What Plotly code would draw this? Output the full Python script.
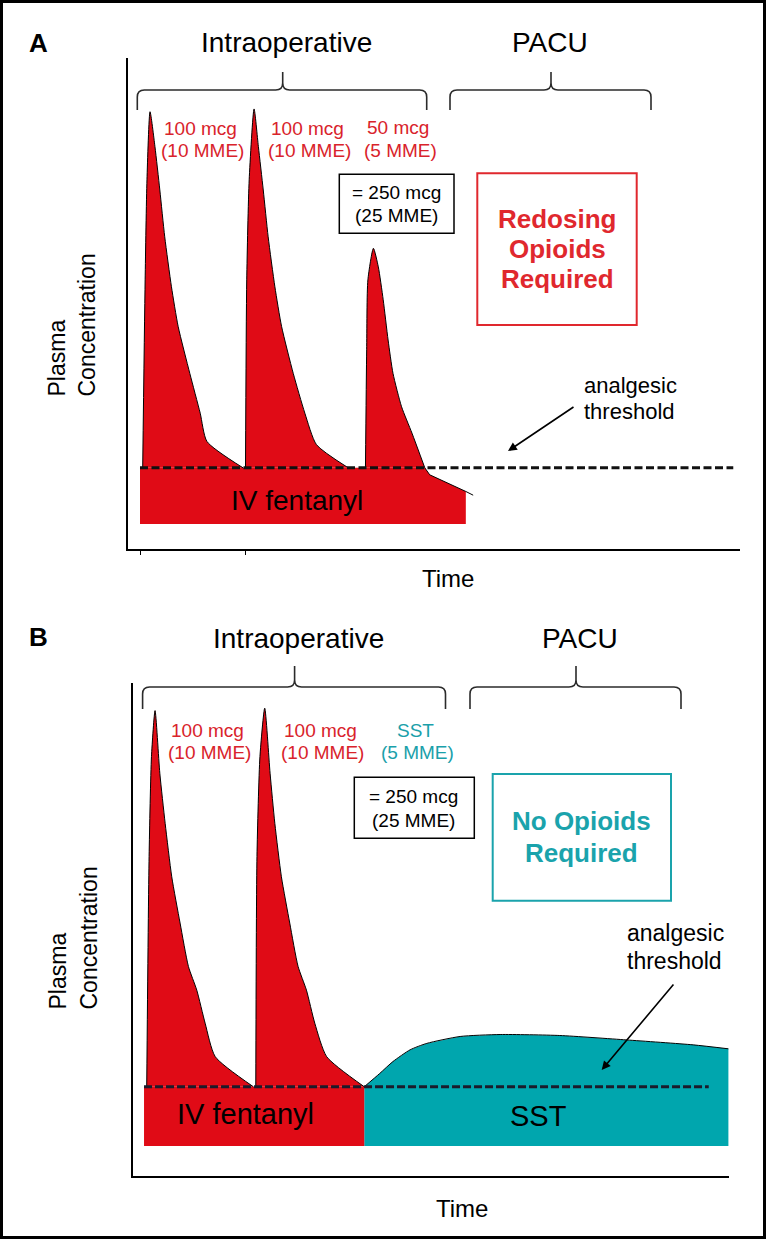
import plotly.graph_objects as go

W, H = 766, 1239

# ---------------- Panel A data (arbitrary time / concentration units) ----------------
threshold_a = 17.3
baseline_a = 5.2
fent_rect_a = [1.96, 55.2]
dash_span_a = [1.96, 98.9]
ticks_a = [1.96, 19.2]

peak1_a_t = [2.4, 2.8, 3.1, 3.6, 4.4, 5.2, 6.0, 7.1, 8.2, 10.1, 11.8, 12.9, 18.8]
peak1_a_c = [17.3, 57.9, 79.5, 94.2, 86.7, 77.3, 67.2, 56.4, 47.8, 37.7, 29.1, 23.0, 17.3]
peak2_a_t = [19.2, 19.4, 19.8, 20.6, 21.3, 22.1, 22.9, 24.0, 25.1, 27.0, 28.9, 30.8, 36.0]
peak2_a_c = [17.3, 57.9, 79.5, 94.8, 86.7, 77.3, 67.2, 56.4, 47.8, 37.7, 29.1, 22.3, 17.3]
peak3_a_t = [38.8, 39.0, 39.2, 40.1, 40.9, 41.7, 42.5, 43.3, 44.7, 46.4, 48.5]
peak3_a_c = [17.3, 42.8, 57.9, 64.7, 60.7, 53.6, 44.9, 37.7, 30.5, 24.8, 17.3]
tail_a_t = [48.5, 49.3, 55.2, 56.4]
tail_a_c = [17.3, 15.8, 12.2, 11.4]

# ---------------- Panel B data ----------------
threshold_b = 18.1
baseline_b = 6.1
fent_rect_b = [1.85, 38.8]
sst_rect_b = [38.8, 99.9]
dash_span_b = [1.85, 96.6]

peak1_b_t = [2.3, 2.7, 3.1, 3.7, 4.5, 5.4, 6.5, 7.9, 9.3, 10.7, 12.1, 13.8, 20.2]
peak1_b_c = [18.1, 64.8, 85.1, 94.4, 81.7, 71.5, 60.7, 51.3, 42.5, 37.7, 31.0, 24.2, 18.1]
peak2_b_t = [20.6, 20.8, 21.3, 22.1, 23.0, 23.8, 24.9, 26.3, 27.7, 29.1, 30.5, 32.5, 38.8]
peak2_b_c = [18.1, 64.8, 85.1, 94.9, 81.7, 71.5, 60.7, 51.3, 42.5, 37.7, 31.0, 24.2, 18.1]
sst_t = [38.8, 41.4, 43.6, 46.5, 49.3, 54.9, 61.6, 71.6, 82.8, 94.0, 99.9]
sst_c = [18.1, 20.8, 23.2, 25.6, 26.9, 28.3, 28.7, 28.5, 27.6, 26.6, 25.8]

# ---------------- styles ----------------
RED = "#e00b16"
RED_TXT = "#d9232b"
TEAL = "#00a6ae"
TEAL_TXT = "#1aa0aa"
FONT = "Arial, 'Liberation Sans', sans-serif"


def P(x):
    return x / W


def Q(y):
    return 1 - y / H


fig = go.Figure()


def add_fill(xs, ys, color, axx, axy, shape="linear"):
    fig.add_trace(go.Scatter(x=xs, y=ys, fill="toself", fillcolor=color, mode="lines",
                             line=dict(width=0, color=color, shape=shape, smoothing=0.6),
                             hoverinfo="skip", xaxis=axx, yaxis=axy))


def add_outline(xs, ys, axx, axy, shape="linear"):
    fig.add_trace(go.Scatter(x=xs, y=ys, mode="lines",
                             line=dict(color="black", width=1, shape=shape, smoothing=0.6),
                             hoverinfo="skip", xaxis=axx, yaxis=axy))


# ---- Panel A ----
add_fill([fent_rect_a[0], fent_rect_a[0]] + tail_a_t[:3] + [fent_rect_a[1]],
         [baseline_a, threshold_a] + tail_a_c[:3] + [baseline_a], RED, "x", "y")
for pt, pc in [(peak1_a_t, peak1_a_c), (peak2_a_t, peak2_a_c), (peak3_a_t, peak3_a_c)]:
    add_fill(pt, pc, RED, "x", "y", "spline")
for pt, pc in [(peak1_a_t, peak1_a_c), (peak2_a_t, peak2_a_c), (peak3_a_t, peak3_a_c)]:
    add_outline(pt, pc, "x", "y", "spline")
add_outline(tail_a_t, tail_a_c, "x", "y")
fig.add_trace(go.Scatter(x=dash_span_a, y=[threshold_a, threshold_a], mode="lines",
                         line=dict(color="#111111", width=3, dash="8px,3.5px"),
                         hoverinfo="skip", xaxis="x", yaxis="y"))

# ---- Panel B ----
add_fill([sst_rect_b[0]] + sst_t + [sst_rect_b[1]], [baseline_b] + sst_c + [baseline_b], TEAL, "x2", "y2")
add_fill([fent_rect_b[0], fent_rect_b[0], fent_rect_b[1], fent_rect_b[1]],
         [baseline_b, threshold_b, threshold_b, baseline_b], RED, "x2", "y2")
for pt, pc in [(peak1_b_t, peak1_b_c), (peak2_b_t, peak2_b_c)]:
    add_fill(pt, pc, RED, "x2", "y2", "spline")
for pt, pc in [(peak1_b_t, peak1_b_c), (peak2_b_t, peak2_b_c)]:
    add_outline(pt, pc, "x2", "y2", "spline")
add_outline(sst_t, sst_c, "x2", "y2", "spline")
fig.add_trace(go.Scatter(x=dash_span_b, y=[threshold_b, threshold_b], mode="lines",
                         line=dict(color="#1b1b2b", width=3, dash="8px,3px"),
                         hoverinfo="skip", xaxis="x2", yaxis="y2"))

axis_common = dict(showgrid=False, zeroline=False, showline=True, linecolor="black",
                   linewidth=2, showticklabels=False, fixedrange=True)

fig.update_layout(
    width=W, height=H, margin=dict(l=0, r=0, t=0, b=0),
    paper_bgcolor="white", plot_bgcolor="white", showlegend=False,
    xaxis=dict(domain=[P(128), P(740)], range=[0, 100], anchor="y",
               ticks="outside", tickvals=ticks_a, ticklen=4, tickwidth=1, tickcolor="black",
               **axis_common),
    yaxis=dict(domain=[Q(549), Q(58)], range=[-0.22, 105.8], anchor="x", ticks="",
               **axis_common),
    xaxis2=dict(domain=[P(133), P(729)], range=[0, 100], anchor="y2", ticks="", **axis_common),
    yaxis2=dict(domain=[Q(1176), Q(683)], range=[0, 100], anchor="x2", ticks="", **axis_common),
)


def brace_path(xl, xr, xt, ybar, yend, ytip, r=7):
    pts = []
    pts.append(f"M {P(xl)},{Q(yend)}")
    pts.append(f"L {P(xl)},{Q(ybar + r)}")
    pts.append(f"Q {P(xl)},{Q(ybar)} {P(xl + r)},{Q(ybar)}")
    pts.append(f"L {P(xt - r)},{Q(ybar)}")
    pts.append(f"Q {P(xt)},{Q(ybar)} {P(xt)},{Q(ybar - r)}")
    pts.append(f"L {P(xt)},{Q(ytip)}")
    pts.append(f"M {P(xt)},{Q(ybar - r)}")
    pts.append(f"Q {P(xt)},{Q(ybar)} {P(xt + r)},{Q(ybar)}")
    pts.append(f"L {P(xr - r)},{Q(ybar)}")
    pts.append(f"Q {P(xr)},{Q(ybar)} {P(xr)},{Q(ybar + r)}")
    pts.append(f"L {P(xr)},{Q(yend)}")
    return " ".join(pts)


shapes = []
for b in [(137.3, 426.7, 282.7, 90, 110, 72), (450, 651, 551, 90, 110, 72),
          (142.6, 445.5, 294.6, 687, 709, 666), (470, 681, 576, 687, 709, 666)]:
    shapes.append(dict(type="path", path=brace_path(*b), xref="paper", yref="paper",
                       line=dict(color="#2b2b2b", width=1.6)))


def box(x0, y0, x1, y1, color, width):
    return dict(type="rect", xref="paper", yref="paper", x0=P(x0), x1=P(x1), y0=Q(y1), y1=Q(y0),
                line=dict(color=color, width=width), fillcolor="rgba(0,0,0,0)")


shapes += [
    box(339.3, 174.3, 454, 233.3, "black", 1.5),
    box(477.3, 173.3, 636.7, 325, "#e0282e", 2),
    box(354.3, 777.3, 474.3, 838.3, "black", 1.5),
    box(492.7, 774, 671, 900.7, "#1aa3ac", 2),
    dict(type="rect", xref="paper", yref="paper", x0=P(1.5), x1=P(W - 1.5), y0=Q(H - 1.5), y1=Q(1.5),
         line=dict(color="black", width=3)),
]
fig.update_layout(shapes=shapes)

ann = []


def txt(text, x, y, size, color="black", bold=False, xanchor="center", yanchor="middle", angle=0):
    t = f"<b>{text}</b>" if bold else text
    ann.append(dict(text=t, x=P(x), y=Q(y), xref="paper", yref="paper", showarrow=False,
                    xanchor=xanchor, yanchor=yanchor, textangle=angle,
                    font=dict(family=FONT, size=size, color=color)))


# Panel A texts
txt("A", 38, 43, 26, bold=True)
txt("Intraoperative", 286, 42, 28)
txt("PACU", 550, 42, 28)
txt("100 mcg", 200, 129, 19, RED_TXT)
txt("(10 MME)", 202, 151, 19, RED_TXT)
txt("100 mcg", 307, 129, 19, RED_TXT)
txt("(10 MME)", 309, 151, 19, RED_TXT)
txt("50 mcg", 398, 128, 19, RED_TXT)
txt("(5 MME)", 400, 150, 19, RED_TXT)
txt("= 250 mcg", 396, 193, 19)
txt("(25 MME)", 396, 215, 19)
txt("Redosing", 557, 219, 26, "#e0282e", bold=True)
txt("Opioids", 557, 249, 26, "#e0282e", bold=True)
txt("Required", 557, 279, 26, "#e0282e", bold=True)
txt("analgesic", 582, 386, 22, xanchor="left")
txt("threshold", 582, 412, 22, xanchor="left")
txt("IV fentanyl", 297, 500, 28)
txt("Time", 448, 578, 24)
txt("Plasma", 56, 399, 23, yanchor="bottom", angle=-90)
txt("Concentration", 86, 399, 23, yanchor="bottom", angle=-90)

# Panel B texts
txt("B", 38, 637, 26, bold=True)
txt("Intraoperative", 298, 638, 28)
txt("PACU", 580, 638, 28)
txt("100 mcg", 207.5, 730, 19, RED_TXT)
txt("(10 MME)", 209.7, 752, 19, RED_TXT)
txt("100 mcg", 320, 730, 19, RED_TXT)
txt("(10 MME)", 322, 752, 19, RED_TXT)
txt("SST", 415.5, 730, 19, TEAL_TXT)
txt("(5 MME)", 418, 752, 19, TEAL_TXT)
txt("= 250 mcg", 413, 796, 19)
txt("(25 MME)", 413, 820, 19)
txt("No Opioids", 581.7, 821, 26, "#1aa3ac", bold=True)
txt("Required", 581.7, 853, 26, "#1aa3ac", bold=True)
txt("analgesic", 625, 933, 23, xanchor="left")
txt("threshold", 625, 961, 23, xanchor="left")
txt("IV fentanyl", 245, 1114, 29)
txt("SST", 538, 1116, 29)
txt("Time", 462, 1208, 24)
txt("Plasma", 57, 1012, 23, yanchor="bottom", angle=-90)
txt("Concentration", 88, 1012, 23, yanchor="bottom", angle=-90)

# Arrows to the threshold
ann.append(dict(text="", x=P(508), y=Q(451), xref="paper", yref="paper", showarrow=True,
                ax=67, ay=-45, arrowhead=2, arrowsize=1.1, arrowwidth=1.6, arrowcolor="black"))
ann.append(dict(text="", x=P(601.7), y=Q(1070), xref="paper", yref="paper", showarrow=True,
                ax=73, ay=-87, arrowhead=2, arrowsize=1.1, arrowwidth=1.6, arrowcolor="black"))

fig.update_layout(annotations=ann)

fig.write_html("out.html", config={"displayModeBar": False, "staticPlot": True},
               post_script="document.body.style.margin='0';document.body.style.overflow='hidden';")
